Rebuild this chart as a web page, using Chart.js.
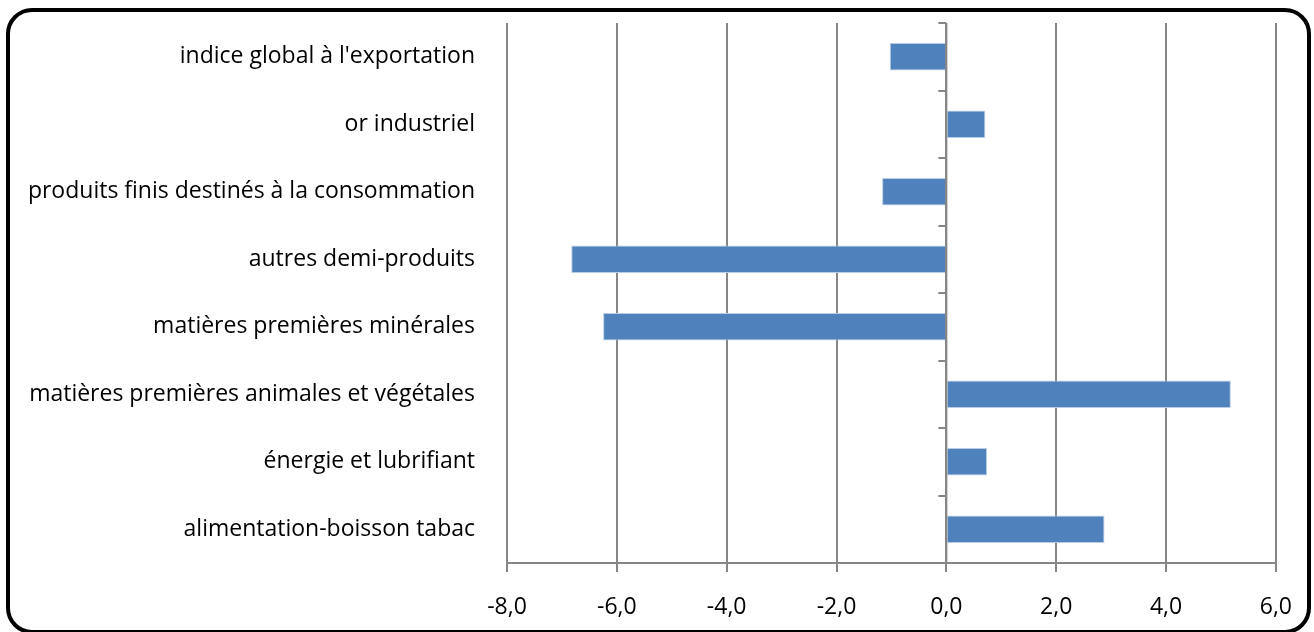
<!DOCTYPE html>
<html>
<head>
<meta charset="utf-8">
<script src="https://cdn.jsdelivr.net/npm/chart.js@4.4.1/dist/chart.umd.min.js"></script>
<style>
  html, body { margin: 0; padding: 0; background: #fff; }
  #wrap { position: relative; width: 1314px; height: 632px; }
  #frame {
    position: absolute; left: 6px; top: 8px; width: 1305px; height: 626px;
    box-sizing: border-box; border: 4px solid #000; border-radius: 26px;
  }
  canvas { position: absolute; left: 0; top: 0; }
</style>
</head>
<body>
<div id="wrap">
  <div id="frame"></div>
  <canvas id="chart" width="1314" height="632"></canvas>
</div>
<script>
const categories = [
  "indice global à l'exportation",
  "or industriel",
  "produits finis destinés à la consommation",
  "autres demi-produits",
  "matières premières minérales",
  "matières premières animales et végétales",
  "énergie et lubrifiant",
  "alimentation-boisson tabac",
];
const values = [-1.03, 0.71, -1.17, -6.83, -6.25, 5.18, 0.74, 2.88];
const xTicks = [-8, -6, -4, -2, 0, 2, 4, 6];

const axisGray = "#868686";
const labelFont = { family: "Open Sans", size: 23 };

// short tick marks on the zero line, between categories
const zeroTicks = {
  id: "zeroTicks",
  afterDatasetsDraw(chart) {
    const { ctx, scales } = chart;
    const x0 = scales.x.getPixelForValue(0);
    ctx.save();
    ctx.strokeStyle = axisGray;
    ctx.lineWidth = 2;
    ctx.beginPath();
    ctx.moveTo(x0, scales.y.top);
    ctx.lineTo(x0, scales.y.bottom);
    for (let i = 0; i <= categories.length; i++) {
      const y = Math.round(scales.y.getPixelForValue(i - 0.5));
      ctx.moveTo(x0 - 8, y);
      ctx.lineTo(x0, y);
    }
    ctx.stroke();
    ctx.restore();
  },
};

new Chart(document.getElementById("chart"), {
  type: "bar",
  data: {
    labels: categories,
    datasets: [
      {
        data: values,
        backgroundColor: "#4F81BD",
        borderColor: "#B9CDE5",
        borderWidth: 1,
        barPercentage: 0.41,
        categoryPercentage: 1,
      },
    ],
  },
  plugins: [zeroTicks],
  options: {
    indexAxis: "y",
    responsive: false,
    animation: false,
    layout: { padding: { top: 23, right: 38, bottom: 0, left: 0 } },
    plugins: { legend: { display: false }, tooltip: { enabled: false } },
    scales: {
      x: {
        min: -8,
        max: 6,
        afterBuildTicks(scale) {
          scale.ticks = xTicks.map((v) => ({ value: v }));
        },
        afterFit(scale) {
          scale.height = 69;
        },
        grid: { color: axisGray, lineWidth: 2, tickLength: 9 },
        border: { color: axisGray, width: 2 },
        ticks: {
          color: "#000",
          font: labelFont,
          padding: 22,
          callback: (v) => v.toFixed(1).replace(".", ","),
        },
      },
      y: {
        afterFit(scale) {
          scale.width = 507;
          scale.paddingTop = 0;
          scale.paddingBottom = 0;
        },
        grid: { display: false },
        border: { display: false },
        ticks: {
          color: "#000",
          font: labelFont,
          padding: 24,
        },
      },
    },
  },
});
</script>
</body>
</html>
